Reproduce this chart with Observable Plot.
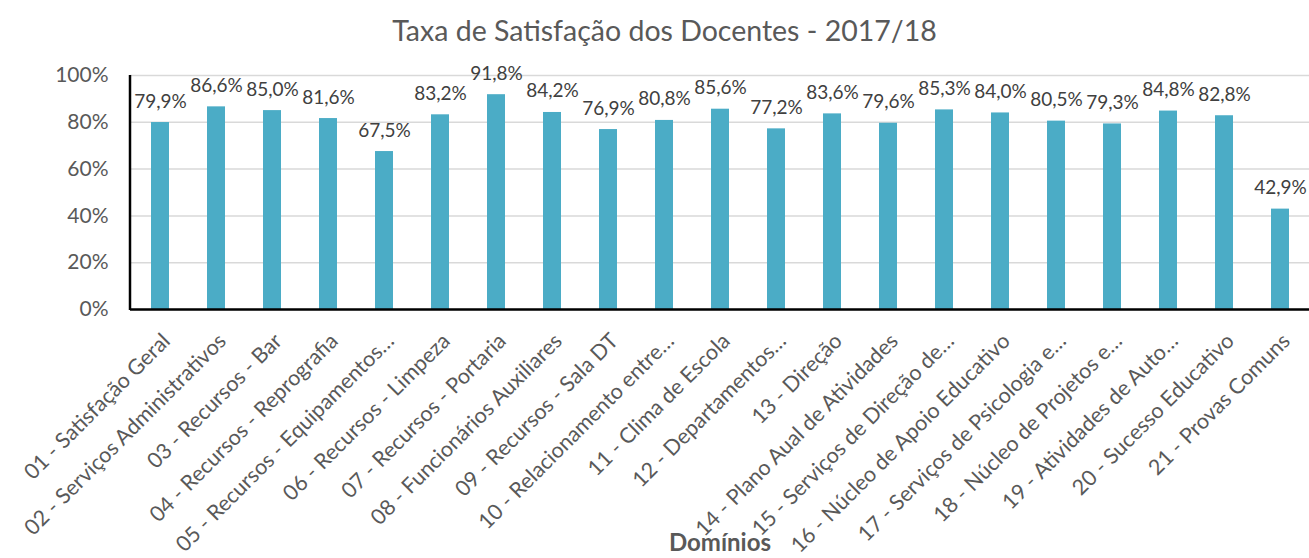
<!DOCTYPE html>
<html>
<head>
<meta charset="utf-8">
<script src="https://cdn.jsdelivr.net/npm/d3@7"></script>
<script src="https://cdn.jsdelivr.net/npm/@observablehq/plot@0.6"></script>
<style>
  html, body { margin: 0; padding: 0; background: #fff; }
  #title { height: 56px; line-height: 60px; text-align: center; font-family: Lato, "Open Sans", sans-serif; font-size: 28.5px; color: #595959; padding-left: 20px; white-space: nowrap; overflow: visible; }
  #chart svg { display: block; overflow: visible; }
</style>
</head>
<body>
<div id="title">Taxa de Satisfação dos Docentes - 2017/18</div>
<div id="chart"></div>
<script>
const categories = [
  "01 - Satisfação Geral",
  "02 - Serviços Administrativos",
  "03 - Recursos - Bar",
  "04 - Recursos - Reprografia",
  "05 - Recursos - Equipamentos…",
  "06 - Recursos - Limpeza",
  "07 - Recursos - Portaria",
  "08 - Funcionários Auxiliares",
  "09 - Recursos - Sala DT",
  "10 - Relacionamento entre…",
  "11 - Clima de Escola",
  "12 - Departamentos…",
  "13 - Direção",
  "14 - Plano Aual de Atividades",
  "15 - Serviços de Direção de…",
  "16 - Núcleo de Apoio Educativo",
  "17 - Serviços de Psicologia e…",
  "18 - Núcleo de Projetos e…",
  "19 - Atividades de Auto…",
  "20 - Sucesso Educativo",
  "21 - Provas Comuns"
];
const values = [79.9, 86.6, 85.0, 81.6, 67.5, 83.2, 91.8, 84.2, 76.9, 80.8, 85.6, 77.2, 83.6, 79.6, 85.3, 84.0, 80.5, 79.3, 84.8, 82.8, 42.9];
const yTicks = [0, 20, 40, 60, 80, 100];

const data = categories.map((c, i) => ({ cat: c, v: values[i] }));
const fmt = v => v.toFixed(1).replace(".", ",") + "%";

const chart = Plot.plot({
  width: 1309,
  height: 502,
  marginTop: 19,
  marginBottom: 249,
  marginLeft: 130,
  marginRight: 0,
  style: { fontFamily: "Lato, 'Open Sans', sans-serif", color: "#595959", background: "#fff", overflow: "visible" },
  x: { domain: categories, paddingInner: 0.68, paddingOuter: 0.34, align: 0.5, range: [130, 1310], label: null },
  y: { domain: [0, 100], label: null },
  marks: [
    Plot.gridY(yTicks, { stroke: "#d9d9d9", strokeOpacity: 1, strokeWidth: 1.5 }),
    Plot.barY(data, { x: "cat", y: "v", fill: "#4bacc6" }),
    Plot.text(data, { x: "cat", y: "v", text: d => fmt(d.v), dy: -15, lineAnchor: "bottom", fontSize: 19, fill: "#404040" }),
    Plot.ruleY([0], { stroke: "#000", strokeWidth: 2.5 }),
    Plot.axisY({ ticks: yTicks, tickFormat: d => d + "%", tickSize: 0, tickPadding: 22, fontSize: 21, fill: "#595959", label: null }),
    Plot.axisX({ tickRotate: -45, tickSize: 0, tickPadding: 28, dx: 6, fontSize: 21.5, fill: "#595959", label: null }),
    Plot.text(["Domínios"], { frameAnchor: "bottom", dy: 241, fontWeight: "bold", fontSize: 24, fill: "#595959" })
  ]
});
const svg = d3.select(chart);
svg.append("line").attr("x1", 130).attr("x2", 130).attr("y1", 19).attr("y2", 254).attr("stroke", "#000").attr("stroke-width", 2.5);
document.getElementById("chart").appendChild(chart);
</script>
</body>
</html>
